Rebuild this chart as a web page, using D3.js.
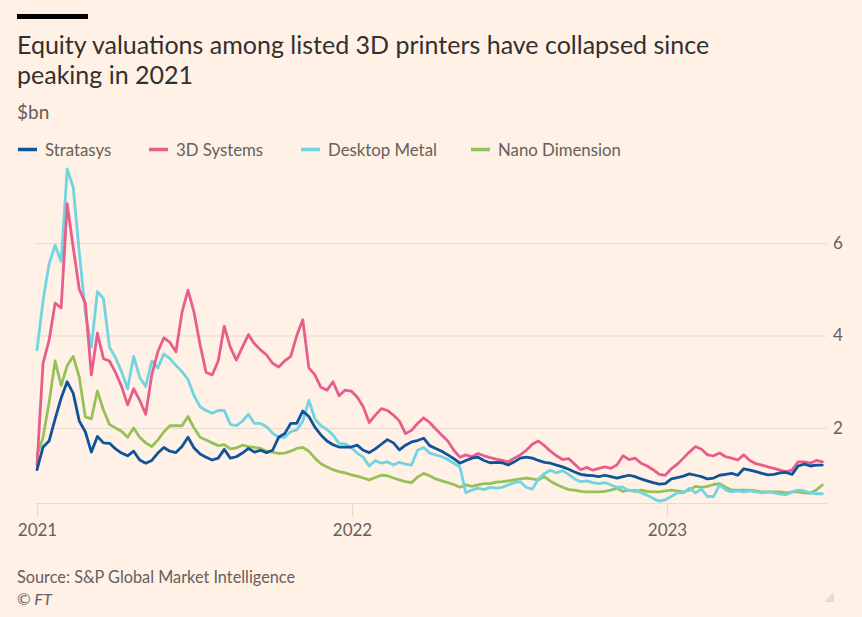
<!DOCTYPE html>
<html><head><meta charset="utf-8">
<script src="https://cdn.jsdelivr.net/npm/d3@7"></script>
<style>
body{margin:0;background:#fff1e5;}
svg{display:block;font-family:Lato,"Noto Sans",sans-serif;}
</style>
</head><body>
<svg id="chart" width="862" height="617"></svg>
<script>
// ---------- data ----------
const titleLines = ["Equity valuations among listed 3D printers have collapsed since", "peaking in 2021"];
const unitLabel = "$bn";
const sourceText = "Source: S&P Global Market Intelligence";
const seriesNames = ["Stratasys", "3D Systems", "Desktop Metal", "Nano Dimension"];
const firstWeek = "2021-01-01"; // weekly observations from this date
const yTickValues = [2, 4, 6];
const xTickLabels = ["2021", "2022", "2023"];

const stratasys = [1.1,1.59,1.72,2.2,2.65,3.0,2.75,2.15,1.92,1.48,1.82,1.68,1.67,1.55,1.46,1.4,1.5,1.31,1.24,1.3,
1.46,1.58,1.5,1.47,1.6,1.8,1.57,1.44,1.37,1.31,1.35,1.54,1.35,1.38,1.46,1.56,1.48,1.52,1.47,1.52,
1.8,1.88,2.1,2.1,2.37,2.25,2.02,1.85,1.72,1.64,1.59,1.59,1.59,1.63,1.52,1.47,1.55,1.65,1.75,1.68,
1.53,1.63,1.7,1.73,1.78,1.62,1.56,1.5,1.42,1.34,1.24,1.3,1.35,1.37,1.3,1.25,1.26,1.25,1.2,1.27,
1.35,1.37,1.35,1.3,1.26,1.24,1.2,1.16,1.11,1.05,1.0,0.98,0.97,0.95,0.98,0.95,0.92,0.95,0.98,0.95,
0.9,0.86,0.82,0.79,0.8,0.9,0.93,0.96,1.01,0.98,0.95,0.9,0.92,0.98,1.0,1.02,0.98,1.12,1.09,1.06,
1.02,0.99,1.0,1.03,1.04,1.0,1.18,1.22,1.18,1.2,1.2];

const systems3d = [1.2,3.4,3.9,4.7,4.6,6.85,5.9,5.0,4.7,3.15,4.05,3.5,3.45,3.2,2.9,2.5,2.85,2.6,2.3,3.15,
3.65,3.95,3.85,3.65,4.5,4.98,4.5,3.8,3.2,3.15,3.45,4.2,3.75,3.47,3.75,4.02,3.82,3.69,3.58,3.4,
3.32,3.45,3.55,4.0,4.34,3.3,3.15,2.88,2.82,3.0,2.7,2.82,2.8,2.67,2.46,2.12,2.28,2.42,2.38,2.28,
2.15,1.88,1.95,2.1,2.22,2.12,1.98,1.85,1.72,1.52,1.37,1.42,1.38,1.45,1.4,1.36,1.33,1.3,1.27,1.35,
1.42,1.52,1.65,1.72,1.62,1.5,1.4,1.32,1.34,1.22,1.1,1.15,1.09,1.13,1.16,1.13,1.2,1.4,1.32,1.35,
1.24,1.18,1.1,1.0,0.98,1.12,1.22,1.35,1.48,1.6,1.54,1.42,1.4,1.46,1.38,1.35,1.31,1.42,1.3,1.23,
1.2,1.16,1.13,1.09,1.06,1.09,1.27,1.27,1.24,1.3,1.27];

const desktopMetal = [3.69,4.75,5.55,5.95,5.6,7.6,7.2,5.8,4.5,3.75,4.95,4.8,3.75,3.52,3.22,2.85,3.55,3.1,2.9,3.45,
3.3,3.6,3.5,3.35,3.22,3.05,2.7,2.46,2.38,2.32,2.38,2.38,2.08,2.05,2.15,2.3,2.1,2.1,2.03,1.89,
1.8,1.8,1.92,1.96,2.15,2.6,2.2,2.05,1.97,1.85,1.67,1.66,1.58,1.46,1.37,1.18,1.3,1.24,1.27,1.2,
1.26,1.22,1.2,1.52,1.58,1.46,1.42,1.38,1.32,1.24,1.16,0.6,0.66,0.7,0.67,0.72,0.7,0.72,0.77,0.82,
0.84,0.72,0.68,0.9,1.02,1.09,1.03,1.08,1.0,0.9,0.84,0.86,0.82,0.8,0.82,0.77,0.72,0.72,0.64,0.66,
0.6,0.55,0.48,0.42,0.45,0.52,0.6,0.6,0.7,0.6,0.68,0.52,0.52,0.77,0.66,0.62,0.64,0.62,0.64,0.62,
0.6,0.62,0.6,0.57,0.56,0.62,0.66,0.64,0.6,0.58,0.58];

const nanoDimension = [1.4,1.8,2.55,3.45,2.92,3.35,3.55,3.1,2.24,2.2,2.8,2.39,2.08,2.0,1.93,1.8,2.0,1.8,1.68,1.6,
1.74,1.92,2.05,2.05,2.05,2.25,2.0,1.8,1.74,1.68,1.62,1.64,1.55,1.57,1.63,1.6,1.58,1.56,1.5,1.48,
1.45,1.46,1.5,1.56,1.58,1.5,1.35,1.23,1.16,1.1,1.06,1.03,0.99,0.96,0.92,0.88,0.93,0.98,0.97,0.92,
0.88,0.84,0.82,0.94,1.02,0.97,0.9,0.86,0.82,0.78,0.72,0.77,0.74,0.77,0.8,0.8,0.83,0.84,0.86,0.88,
0.9,0.92,0.9,0.88,0.95,0.85,0.78,0.72,0.67,0.66,0.63,0.62,0.62,0.62,0.63,0.66,0.7,0.63,0.66,0.63,
0.66,0.63,0.62,0.62,0.64,0.66,0.64,0.62,0.66,0.74,0.72,0.74,0.78,0.8,0.72,0.66,0.66,0.66,0.66,0.64,
0.62,0.62,0.62,0.62,0.6,0.62,0.62,0.6,0.59,0.66,0.77];

// ---------- style & layout ----------
const colors = ["#0f5499", "#e95d8c", "#72d4e1", "#96c15a"];
const bg = "#fff1e5";
const textDark = "#33302e";
const textMid = "#66605c";
const gridCol = "#e7dace";

const svg = d3.select("#chart");
svg.append("rect").attr("width", 862).attr("height", 617).attr("fill", bg);

// top bar
svg.append("rect").attr("x", 17).attr("y", 14).attr("width", 71).attr("height", 5).attr("fill", "#000");

// title
svg.append("text").attr("x", 17).attr("y", 54).attr("font-size", 25).attr("fill", textDark)
  .selectAll("tspan").data(titleLines).join("tspan")
  .attr("x", 17).attr("dy", (d, i) => i === 0 ? 0 : 30).text(d => d);

svg.append("text").attr("x", 17).attr("y", 119).attr("font-size", 19).attr("fill", textMid).text(unitLabel);

// legend
const legendX = [17, 148, 300, 470];
const legend = svg.append("g");
seriesNames.forEach((n, i) => {
  legend.append("line").attr("x1", legendX[i] + 1).attr("x2", legendX[i] + 20)
    .attr("y1", 149.5).attr("y2", 149.5).attr("stroke", colors[i]).attr("stroke-width", 3.5);
  legend.append("text").attr("x", legendX[i] + 28).attr("y", 155.5).attr("font-size", 16.8)
    .attr("fill", textMid).text(n);
});

// scales
const parse = d3.timeParse("%Y-%m-%d");
const start = parse(firstWeek);
const dates = stratasys.map((_, i) => d3.timeDay.offset(start, 7 * i));
const x = d3.scaleTime().domain([parse("2021-01-01"), parse("2023-07-06")]).range([37, 827.5]);
const y = d3.scaleLinear().domain([0.38, 7.6]).range([503, 169]);

// gridlines + y labels
const yAxis = d3.axisRight(y).tickValues(yTickValues).tickSize(791).tickFormat(d3.format("d"));
const gy = svg.append("g").attr("transform", "translate(36,0)").call(yAxis);
gy.select(".domain").remove();
gy.selectAll(".tick line").attr("stroke", gridCol).attr("stroke-width", 1);
gy.selectAll(".tick text").attr("x", 797).attr("font-size", 17).attr("fill", textMid)
  .attr("font-family", "Lato, sans-serif");

// x axis
const xTicks = xTickLabels.map(s => parse(s + "-01-01"));
const xAxis = d3.axisBottom(x).tickValues(xTicks).tickSize(14).tickFormat(d3.timeFormat("%Y"));
const gx = svg.append("g").attr("transform", "translate(0,503)").call(xAxis);
gx.select(".domain").attr("d", "M36,0.5H827").attr("stroke", gridCol).attr("stroke-width", 1.2);
gx.selectAll(".tick line").attr("stroke", gridCol).attr("stroke-width", 1.2);
gx.selectAll(".tick text").attr("y", 21).attr("font-size", 17).attr("fill", textMid)
  .attr("font-family", "Lato, sans-serif");

// lines
const allSeries = [stratasys, systems3d, desktopMetal, nanoDimension];
const line = d3.line().x((d, i) => x(dates[i])).y(d => y(d)).curve(d3.curveLinear);
const order = [3, 2, 1, 0];
order.forEach(k => {
  svg.append("path").datum(allSeries[k]).attr("d", line).attr("fill", "none")
    .attr("stroke", colors[k]).attr("stroke-width", 2.8).attr("stroke-linejoin", "round")
    .attr("stroke-linecap", "round");
});

// footer
svg.append("text").attr("x", 17).attr("y", 583).attr("font-size", 16.3).attr("fill", textMid).text(sourceText);
svg.append("text").attr("x", 17).attr("y", 605).attr("font-size", 16.3).attr("fill", textMid)
  .attr("font-style", "italic").text("\u00A9 FT");
svg.append("path").attr("d", "M834,592 L834,602 L824,602 Z").attr("fill", "#e6dbd1");
</script>
</body></html>
